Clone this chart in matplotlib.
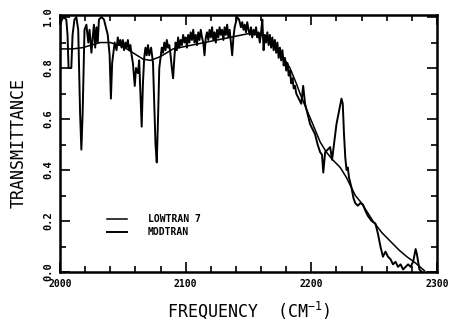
import matplotlib
matplotlib.use("Agg")
import matplotlib.pyplot as plt
from matplotlib.ticker import MultipleLocator

# LOWTRAN 7 (smooth, coarse resolution)
low_freq = [2000, 2010, 2018, 2025, 2032, 2040, 2050, 2058, 2066, 2072, 2080, 2090,
            2100, 2110, 2120, 2130, 2140, 2150, 2158, 2165, 2172, 2178, 2183, 2188,
            2191, 2196, 2202, 2207, 2212, 2217, 2223, 2228, 2235, 2240, 2249, 2256,
            2262, 2270, 2276, 2283, 2290]
low_trans = [0.875, 0.875, 0.88, 0.89, 0.90, 0.90, 0.885, 0.86, 0.835, 0.83, 0.845, 0.875,
             0.885, 0.895, 0.905, 0.915, 0.925, 0.935, 0.935, 0.915, 0.88, 0.84, 0.80, 0.74,
             0.70, 0.64, 0.57, 0.51, 0.47, 0.44, 0.41, 0.37, 0.30, 0.27, 0.20, 0.155,
             0.125, 0.085, 0.06, 0.035, 0.005]

# MODTRAN (fine resolution)
mod_freq = [2000, 2000.3, 2001.5, 2003, 2005, 2006, 2006.8, 2009, 2010, 2011.5, 2013, 2014.5,
            2016, 2017, 2018, 2019.5, 2021, 2022.5, 2023.5, 2025, 2026, 2027, 2028, 2029,
            2030, 2031, 2033, 2035, 2036.5, 2038, 2039.5, 2040.5, 2041.5, 2042.5, 2043.5, 2045,
            2046, 2047, 2048, 2049, 2050, 2051, 2052, 2053, 2054, 2055, 2056, 2057,
            2058, 2059.5, 2060.5, 2062, 2063, 2064, 2065, 2066, 2067, 2068, 2069, 2070,
            2071, 2072.5, 2074, 2075, 2076, 2077, 2078, 2079, 2080, 2081, 2082, 2083,
            2084, 2085, 2086, 2087, 2088, 2089, 2090, 2091, 2092, 2093, 2094, 2095,
            2096, 2097, 2098, 2099, 2100, 2101, 2102, 2103, 2104, 2105, 2106, 2107,
            2108, 2109, 2110, 2111, 2112, 2113, 2114, 2115, 2116, 2117, 2118, 2119,
            2120, 2121, 2122, 2123, 2124, 2125, 2126, 2127, 2128, 2129, 2130, 2131,
            2132, 2133, 2134, 2135, 2136, 2137, 2138, 2139, 2140, 2141, 2142.5, 2144,
            2145, 2146, 2147, 2148, 2149, 2150, 2151, 2152, 2153, 2154, 2155, 2156,
            2157, 2158, 2159, 2160, 2161, 2162, 2163, 2164, 2165, 2166, 2167, 2168,
            2169, 2170, 2171, 2172, 2173, 2174, 2175, 2176, 2177, 2178, 2179, 2180,
            2181, 2182, 2183, 2184, 2185, 2186, 2187, 2188, 2190, 2192, 2193.5, 2195,
            2197, 2199, 2201, 2203, 2205, 2207, 2208.5, 2209.5, 2211, 2213, 2215, 2216.5,
            2218, 2220, 2222, 2224, 2225, 2226, 2227, 2228, 2229, 2230, 2232, 2233.5,
            2235, 2237, 2239, 2241, 2243, 2245, 2248, 2251, 2253, 2255, 2257, 2259,
            2261, 2263, 2265, 2267, 2269, 2271, 2273, 2275, 2277, 2279, 2281, 2283,
            2284, 2286, 2288]
mod_trans = [0.80, 0.97, 0.99, 1.00, 0.99, 0.93, 0.80, 0.80, 0.93, 0.99, 1.00, 0.95,
             0.62, 0.48, 0.62, 0.95, 0.97, 0.90, 0.95, 0.86, 0.92, 0.97, 0.88, 0.96,
             0.90, 0.99, 1.00, 0.99, 0.96, 0.93, 0.85, 0.68, 0.82, 0.86, 0.90, 0.87,
             0.92, 0.89, 0.91, 0.88, 0.91, 0.87, 0.90, 0.88, 0.91, 0.87, 0.89, 0.85,
             0.82, 0.73, 0.80, 0.78, 0.83, 0.70, 0.57, 0.74, 0.84, 0.88, 0.85, 0.89,
             0.85, 0.88, 0.82, 0.66, 0.50, 0.43, 0.60, 0.80, 0.84, 0.88, 0.86, 0.90,
             0.87, 0.91, 0.88, 0.89, 0.85, 0.80, 0.76, 0.84, 0.90, 0.87, 0.92, 0.88,
             0.91, 0.89, 0.93, 0.90, 0.92, 0.88, 0.93, 0.90, 0.94, 0.91, 0.95, 0.90,
             0.93, 0.89, 0.94, 0.91, 0.95, 0.92, 0.90, 0.85, 0.92, 0.94, 0.91, 0.95,
             0.92, 0.96, 0.91, 0.94, 0.90, 0.95, 0.92, 0.96, 0.93, 0.95, 0.91, 0.96,
             0.93, 0.97, 0.92, 0.95, 0.90, 0.85, 0.92, 0.96, 0.98, 1.00, 0.99, 0.96,
             0.98, 0.95, 0.97, 0.94, 0.98, 0.95, 0.93, 0.96, 0.92, 0.95, 0.93, 0.96,
             0.92, 0.94, 0.90, 0.94, 0.99, 0.87, 0.93, 0.90, 0.94, 0.89, 0.93, 0.88,
             0.92, 0.87, 0.91, 0.86, 0.90, 0.84, 0.88, 0.83, 0.87, 0.81, 0.84, 0.79,
             0.82, 0.77, 0.79, 0.74, 0.76, 0.72, 0.73, 0.70, 0.68, 0.66, 0.73, 0.66,
             0.62, 0.58, 0.56, 0.54, 0.50, 0.47, 0.46, 0.39, 0.47, 0.48, 0.49, 0.44,
             0.50, 0.58, 0.63, 0.68, 0.66, 0.54, 0.45, 0.40, 0.41, 0.37, 0.33, 0.29,
             0.27, 0.26, 0.27, 0.265, 0.24, 0.22, 0.20, 0.19, 0.15, 0.10, 0.06, 0.08,
             0.06, 0.05, 0.03, 0.04, 0.02, 0.03, 0.01, 0.02, 0.03, 0.02, 0.04, 0.09,
             0.07, 0.01, 0.00]

x_ticks = [2000, 2100, 2200, 2300]
x_ticklabels = ["2000", "2100", "2200", "2300"]
y_ticks = [0.0, 0.2, 0.4, 0.6, 0.8, 1.0]
y_ticklabels = ["0.0", "0.2", "0.4", "0.6", "0.8", "1.0"]

mono = "DejaVu Sans Mono"

fig = plt.figure(figsize=(4.51, 3.26), dpi=100)
ax = fig.add_axes([60 / 451, 54 / 326, 377 / 451, 257 / 326])

ax.plot(low_freq, low_trans, color="black", lw=1.1, label="LOWTRAN 7")
ax.plot(mod_freq, mod_trans, color="black", lw=1.4, label="MODTRAN")

ax.set_xlim(2000, 2300)
ax.set_ylim(0, 1.008)

ax.set_xticks(x_ticks)
ax.set_xticklabels(x_ticklabels, fontfamily=mono, fontweight="bold", fontsize=7)
ax.set_yticks(y_ticks)
ax.set_yticklabels(y_ticklabels, fontfamily=mono, fontweight="bold", fontsize=7.5,
                   rotation=90, va="center")
ax.xaxis.set_minor_locator(MultipleLocator(20))
ax.yaxis.set_minor_locator(MultipleLocator(0.1))
ax.tick_params(which="both", direction="in", top=True, right=True, width=1.2, colors="black")
ax.tick_params(which="major", length=7, pad=5)
ax.tick_params(which="minor", length=4)

for s in ax.spines.values():
    s.set_linewidth(1.8)

ax.set_xlabel("FREQUENCY  (CM$^{\\mathregular{-1}}$)", fontfamily=mono, fontsize=12, labelpad=8)
ax.set_ylabel("TRANSMITTANCE", fontfamily=mono, fontsize=12, labelpad=11)

leg = ax.legend(loc="center left", bbox_to_anchor=(0.125, 0.18), frameon=False,
                prop={"family": mono, "weight": "bold", "size": 7},
                handlelength=2.0, handletextpad=2.2, labelspacing=0.35, borderpad=0,
                borderaxespad=0)

fig.savefig("out.png", dpi=100)
